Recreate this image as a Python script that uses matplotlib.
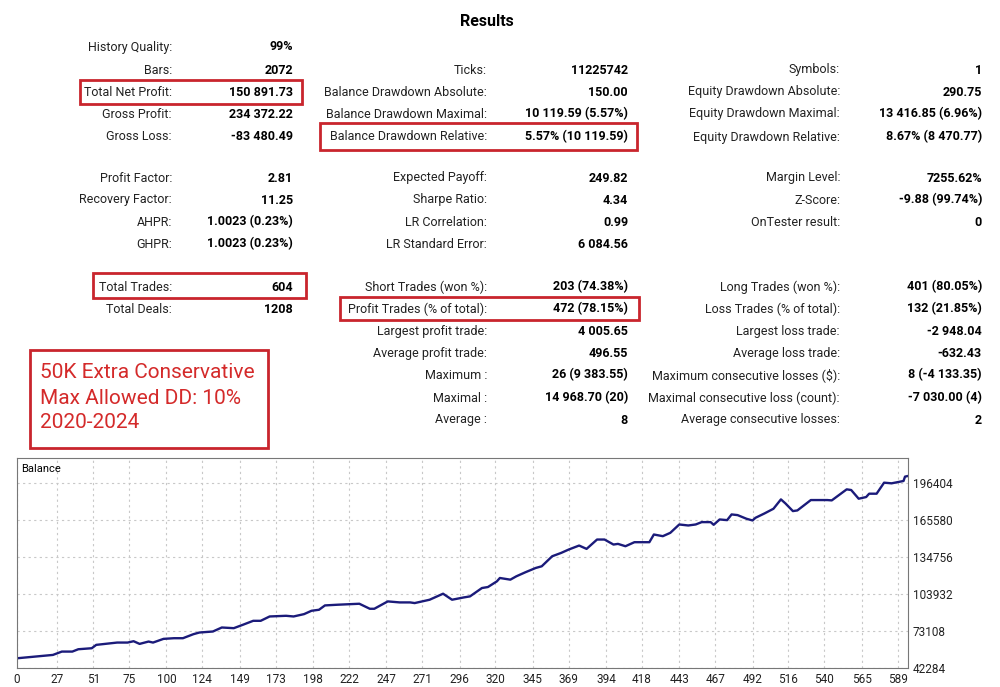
import matplotlib
matplotlib.use("Agg")
import matplotlib.pyplot as plt
from matplotlib.patches import Rectangle

W, H = 1000, 687
RED = "#c9252d"

# balance curve (trade index, balance)
trade_idx = [0, 24, 30, 37, 41, 50, 53, 67, 74, 78, 82, 88, 91, 98, 105, 111, 118, 122,
             131, 137, 145, 151, 158, 163, 169, 180, 185, 192, 197, 202, 206, 214, 229,
             236, 239, 248, 256, 263, 266, 276, 285, 291, 299, 303, 311, 315, 321,
             323, 330, 334, 340, 347, 351, 358, 364, 369, 376, 381, 388, 393, 399, 402,
             407, 413, 423, 426, 432, 437, 443, 449, 454, 458, 464, 466, 470, 475, 478,
             482, 488, 492, 494, 500, 506, 511, 514, 519, 522, 531, 542, 545, 555, 558,
             563, 568, 570, 575, 580, 585, 593, 594, 596]
balance = [50370, 53160, 55940, 55940, 57890, 58730, 61530, 63450, 63450, 64570, 62340,
           64290, 63450, 66520, 67070, 67070, 70420, 71800, 72640, 75980, 75420, 78200,
           81540, 81540, 85160, 85720, 85160, 87110, 89890, 90730, 94350, 94900, 95740,
           91560, 91560, 97690, 96850, 96850, 96300, 99080, 104090, 99080, 101030,
           101860, 108820, 109650, 114380,
           117170, 115780, 118560, 121900, 125520, 126910, 135260, 138040, 140820,
           144160, 141380, 149170, 149170, 144990, 145550, 143600, 146950, 146950,
           153350, 151960, 154740, 161700, 160860, 161700, 163650, 163650, 161420,
           165870, 165310, 170050, 169490, 166430, 165040, 167260, 170880, 174780,
           182570, 179230, 172830, 173380, 182010, 182010, 181730, 190920, 190360,
           183130, 184520, 187300, 187300, 196480, 195930, 197880, 201500, 202050]

x_ticks = [0, 27, 51, 75, 100, 124, 149, 173, 198, 222, 247, 271, 296, 320, 345, 369,
           394, 418, 443, 467, 492, 516, 540, 565, 589]
y_ticks = [42284, 73108, 103932, 134756, 165580, 196404]

# (label, value, x of label right edge, x of value right edge, y)
rows = [
    ("History Quality:", "99%", 172, 293, 47),
    ("Bars:", "2072", 172, 293, 70),
    ("Total Net Profit:", "150 891.73", 172, 293, 92),
    ("Gross Profit:", "234 372.22", 172, 293, 114),
    ("Gross Loss:", "-83 480.49", 172, 293, 137),
    ("Profit Factor:", "2.81", 172, 293, 178),
    ("Recovery Factor:", "11.25", 172, 293, 200),
    ("AHPR:", "1.0023 (0.23%)", 172, 293, 222),
    ("GHPR:", "1.0023 (0.23%)", 172, 293, 244),
    ("Total Trades:", "604", 172, 293, 287),
    ("Total Deals:", "1208", 172, 293, 309),
    ("Ticks:", "11225742", 487, 628, 70),
    ("Balance Drawdown Absolute:", "150.00", 487, 628, 92),
    ("Balance Drawdown Maximal:", "10 119.59 (5.57%)", 487, 628, 114),
    ("Balance Drawdown Relative:", "5.57% (10 119.59)", 487, 628, 137),
    ("Expected Payoff:", "249.82", 487, 628, 178),
    ("Sharpe Ratio:", "4.34", 487, 628, 200),
    ("LR Correlation:", "0.99", 487, 628, 222),
    ("LR Standard Error:", "6 084.56", 487, 628, 244),
    ("Short Trades (won %):", "203 (74.38%)", 487, 628, 287),
    ("Profit Trades (% of total):", "472 (78.15%)", 487, 628, 309),
    ("Largest profit trade:", "4 005.65", 487, 628, 331),
    ("Average profit trade:", "496.55", 487, 628, 353),
    ("Maximum :", "26 (9 383.55)", 487, 628, 375),
    ("Maximal :", "14 968.70 (20)", 487, 628, 398),
    ("Average :", "8", 487, 628, 420),
    ("Symbols:", "1", 840, 982, 70),
    ("Equity Drawdown Absolute:", "290.75", 840, 982, 92),
    ("Equity Drawdown Maximal:", "13 416.85 (6.96%)", 840, 982, 114),
    ("Equity Drawdown Relative:", "8.67% (8 470.77)", 840, 982, 137),
    ("Margin Level:", "7255.62%", 840, 982, 178),
    ("Z-Score:", "-9.88 (99.74%)", 840, 982, 200),
    ("OnTester result:", "0", 840, 982, 222),
    ("Long Trades (won %):", "401 (80.05%)", 840, 982, 287),
    ("Loss Trades (% of total):", "132 (21.85%)", 840, 982, 309),
    ("Largest loss trade:", "-2 948.04", 840, 982, 331),
    ("Average loss trade:", "-632.43", 840, 982, 353),
    ("Maximum consecutive losses ($):", "8 (-4 133.35)", 840, 982, 375),
    ("Maximal consecutive loss (count):", "-7 030.00 (4)", 840, 982, 398),
    ("Average consecutive losses:", "2", 840, 982, 420),
]

boxes = [(80, 80, 222, 24), (320, 123, 317, 27), (93, 273, 213, 25), (340, 297, 299, 23)]
note = ["50K Extra Conservative", "Max Allowed DD: 10%", "2020-2024"]


def fx(px):
    return px / W


def fy(py):
    return 1 - py / H


plt.rcParams["font.family"] = ["Roboto", "DejaVu Sans"]
fig = plt.figure(figsize=(10, 6.87), dpi=100)

fig.text(fx(487), fy(22), "Results", ha="center", va="center", fontsize=11.5, fontweight="bold")
for label, value, lx, vx, y in rows:
    fig.text(fx(lx), fy(y), label, ha="right", va="center", fontsize=9, color="#222222")
    fig.text(fx(vx), fy(y), value, ha="right", va="center", fontsize=9, fontweight="bold")

for bx, by, bw, bh in boxes:
    fig.patches.append(Rectangle((fx(bx), fy(by + bh)), bw / W, bh / H, fill=False,
                                 edgecolor=RED, linewidth=2, transform=fig.transFigure))
fig.patches.append(Rectangle((fx(30), fy(448)), 238 / W, 98 / H, fill=False,
                             edgecolor=RED, linewidth=2, transform=fig.transFigure))
for i, line in enumerate(note):
    fig.text(fx(40), fy(373 + i * 25), line, ha="left", va="center", fontsize=15,
             color="#d42a2a")

ax = fig.add_axes([fx(17), fy(668), 891 / W, 210 / H])
ax.plot(trade_idx, balance, color="#1b1b7a", linewidth=1.7)
ax.set_xlim(0, 596)
ax.set_ylim(42284, 217000)
ax.set_xticks(x_ticks)
ax.set_yticks(y_ticks)
ax.yaxis.tick_right()
ax.tick_params(labelsize=8.5, length=0, colors="#222222")
ax.grid(True, linestyle=(0, (2, 3)), color="#c8c8c8", linewidth=0.8)
for s in ax.spines.values():
    s.set_color("#777777")
ax.text(0.005, 0.97, "Balance", transform=ax.transAxes, ha="left", va="top", fontsize=8)

fig.savefig("out.png", dpi=100)
